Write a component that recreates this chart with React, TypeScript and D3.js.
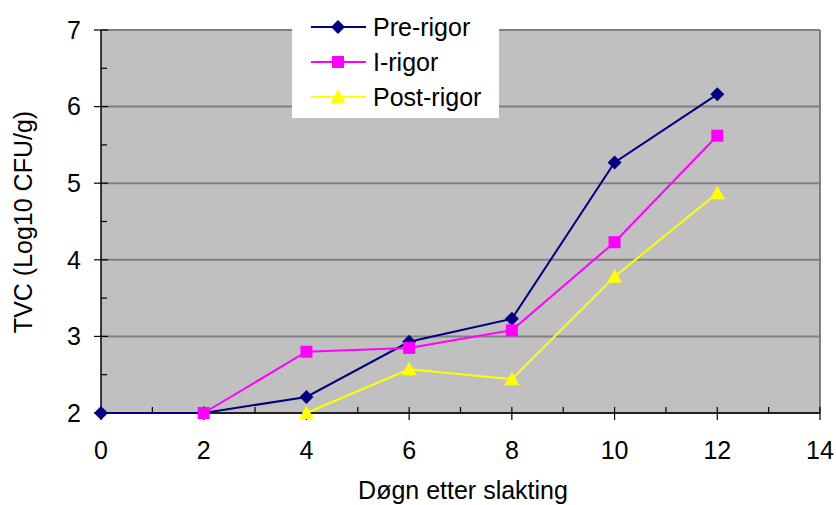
import React from "react";
import * as d3 from "d3";

const days = [0, 2, 4, 6, 8, 10, 12];
const preRigor = [2.0, 2.0, 2.21, 2.93, 3.23, 5.27, 6.16];
const iRigor = [null, 2.0, 2.8, 2.85, 3.08, 4.23, 5.62];
const postRigor = [null, null, 2.0, 2.57, 2.44, 3.78, 4.87];
const seriesNames = ["Pre-rigor", "I-rigor", "Post-rigor"];
const seriesColors = ["#000080", "#FF00FF", "#FFFF00"];
const seriesShapes = ["diamond", "square", "triangle"];
const xTicks = [0, 2, 4, 6, 8, 10, 12, 14];
const yTicks = [2, 3, 4, 5, 6, 7];
const xTitle = "Døgn etter slakting";
const yTitle = "TVC (Log10 CFU/g)";

const W = 836, H = 505;
const left = 101, right = 820, top = 30, bottom = 413;
const font = "'Liberation Sans', Arial, sans-serif";
const fs = 25;

function Marker({ shape, x, y, color }: { shape: string; x: number; y: number; color: string }) {
  if (shape === "diamond") {
    const r = 7;
    return <path d={`M${x},${y - r}L${x + r},${y}L${x},${y + r}L${x - r},${y}Z`} fill={color} />;
  }
  if (shape === "square") {
    const r = 6;
    return <rect x={x - r} y={y - r} width={2 * r} height={2 * r} fill={color} />;
  }
  const r = 7.5;
  return <path d={`M${x},${y - r}L${x + r},${y + 6}L${x - r},${y + 6}Z`} fill={color} />;
}

export default function App() {
  const xs = d3.scaleLinear().domain([0, 14]).range([left, right]);
  const ys = d3.scaleLinear().domain([2, 7]).range([bottom, top]);
  const data = [preRigor, iRigor, postRigor];
  const line = d3
    .line<[number, number | null]>()
    .defined((d) => d[1] != null)
    .x((d) => xs(d[0]))
    .y((d) => ys(d[1] as number));

  const minorY = d3.range(2.5, 7, 1);
  const minorX = d3.range(1, 14, 2);

  return (
    <svg width={W} height={H} style={{ position: "absolute", left: 0, top: 0 }}>
      <rect x={0} y={0} width={W} height={H} fill="#fff" />
      <rect x={left} y={top} width={right - left} height={bottom - top} fill="#C0C0C0" />
      {yTicks.map((t) => (
        <line key={"g" + t} x1={left} x2={right} y1={ys(t)} y2={ys(t)} stroke="#808080" strokeWidth={2} />
      ))}
      <line x1={right} x2={right} y1={top} y2={bottom} stroke="#808080" strokeWidth={2} />
      <line x1={left} x2={left} y1={top} y2={bottom} stroke="#000" strokeWidth={1.5} />
      <line x1={left} x2={right} y1={bottom} y2={bottom} stroke="#000" strokeWidth={1.5} />
      {yTicks.map((t) => (
        <g key={"yt" + t}>
          <line x1={left - 7} x2={left + 7} y1={ys(t)} y2={ys(t)} stroke="#000" strokeWidth={1.2} />
          <text x={81} y={ys(t)} dy="0.35em" textAnchor="end" fontFamily={font} fontSize={fs}>
            {t}
          </text>
        </g>
      ))}
      {minorY.map((t) => (
        <line key={"my" + t} x1={left} x2={left + 6} y1={ys(t)} y2={ys(t)} stroke="#000" strokeWidth={1.2} />
      ))}
      {xTicks.map((t) => (
        <g key={"xt" + t}>
          <line x1={xs(t)} x2={xs(t)} y1={bottom - 6} y2={bottom + 7} stroke="#000" strokeWidth={1.2} />
          <text x={xs(t)} y={450} dy="0.35em" textAnchor="middle" fontFamily={font} fontSize={fs}>
            {t}
          </text>
        </g>
      ))}
      {minorX.map((t) => (
        <line key={"mx" + t} x1={xs(t)} x2={xs(t)} y1={bottom - 6} y2={bottom} stroke="#000" strokeWidth={1.2} />
      ))}
      {data.map((vals, i) => {
        const pts = days.map((d, j) => [d, vals[j]] as [number, number | null]);
        return <path key={"s" + i} d={line(pts) || ""} fill="none" stroke={seriesColors[i]} strokeWidth={2} />;
      })}
      {data.map((vals, i) => (
        <g key={"m" + i}>
          {days.map((d, j) =>
            vals[j] == null ? null : (
              <Marker key={j} shape={seriesShapes[i]} x={xs(d)} y={ys(vals[j] as number)} color={seriesColors[i]} />
            )
          )}
        </g>
      ))}
      <rect x={292} y={8} width={207} height={110} fill="#fff" />
      {seriesNames.map((n, i) => {
        const cy = 27 + i * 35;
        return (
          <g key={"l" + i}>
            <line x1={311} x2={366} y1={cy} y2={cy} stroke={seriesColors[i]} strokeWidth={2} />
            <Marker shape={seriesShapes[i]} x={338} y={cy} color={seriesColors[i]} />
            <text x={373} y={cy} dy="0.35em" fontFamily={font} fontSize={fs}>
              {n}
            </text>
          </g>
        );
      })}
      <text x={463} y={499} textAnchor="middle" fontFamily={font} fontSize={fs}>
        {xTitle}
      </text>
      <text transform={`translate(23,222) rotate(-90)`} dy="0.35em" textAnchor="middle" fontFamily={font} fontSize={fs}>
        {yTitle}
      </text>
    </svg>
  );
}
